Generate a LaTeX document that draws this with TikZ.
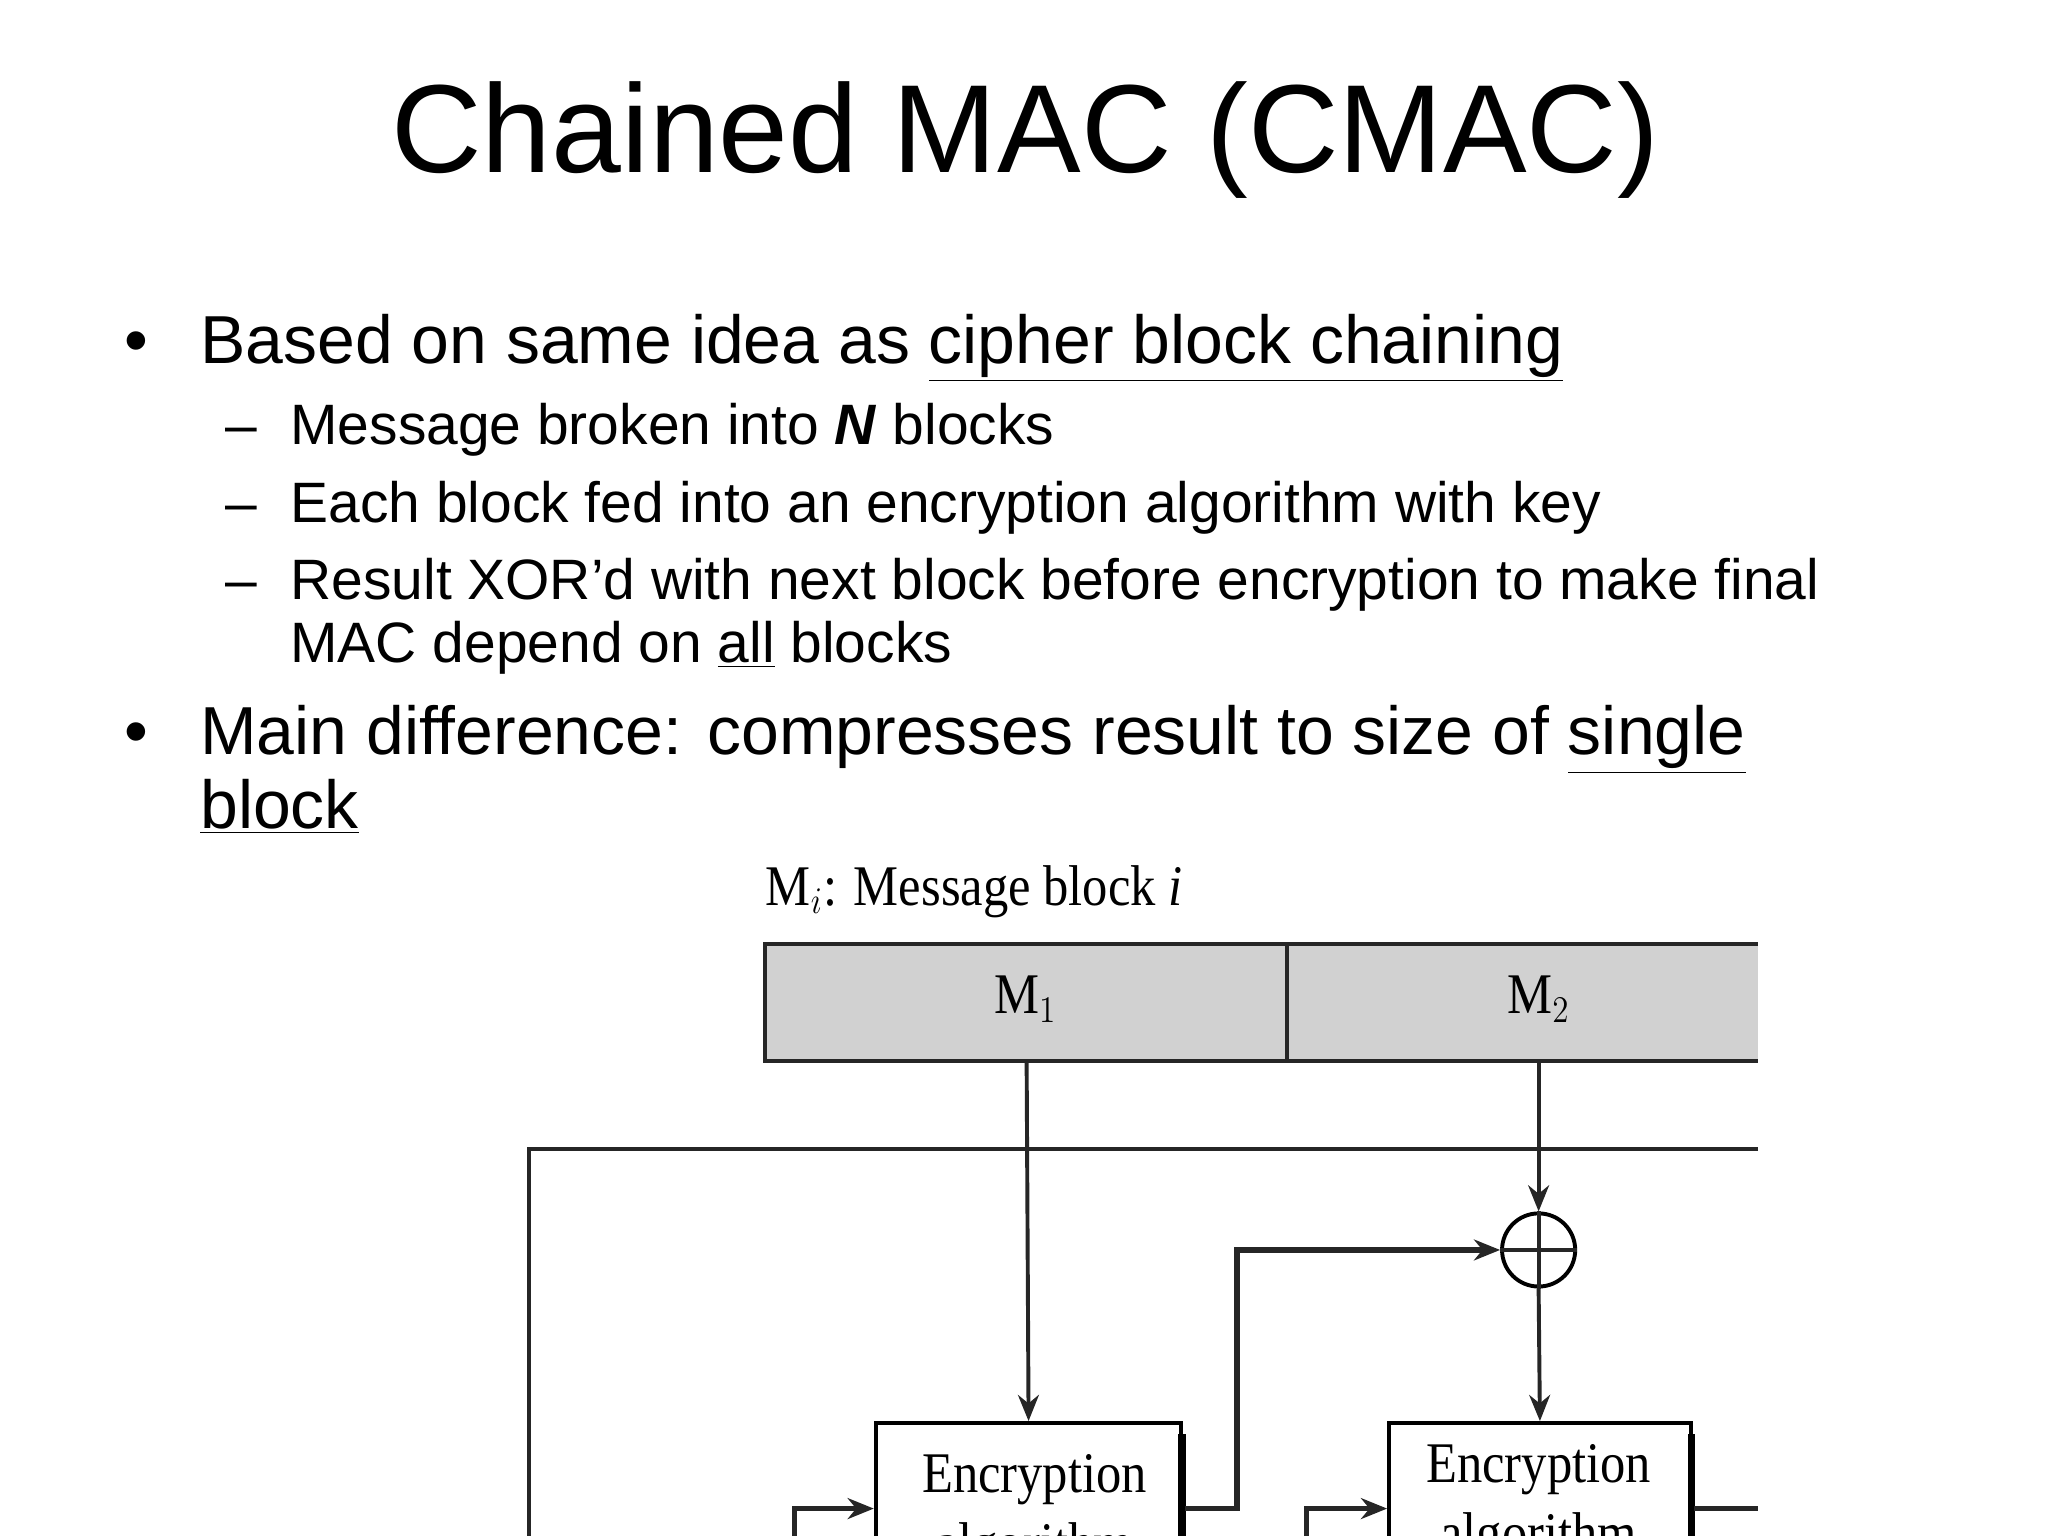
\documentclass[tikz,border=0pt]{standalone}
\usepackage{fontspec}
\setmainfont{Liberation Sans}
\newfontfamily\dserif{Liberation Serif}
\usetikzlibrary{arrows.meta}
\begin{document}
\begin{tikzpicture}[x=0.5pt,y=-0.5pt,
  txt/.style={anchor=base west,inner sep=0pt},
  ln/.style={line width=1.5pt,black!85},
  arr/.style={ln,-{Stealth[length=10pt,width=8pt]}},
  box/.style={draw,line width=1.5pt,fill=white,minimum width=117pt,minimum height=60pt,anchor=north west,inner sep=0pt},
  dlab/.style={font=\dserif\fontsize{22}{24}\selectfont,xscale=0.88,inner sep=0pt}]
\useasboundingbox (0,0) rectangle (1568,1176);
\clip (0,0) rectangle (1568,1176);
\node[anchor=base,inner sep=0pt,font=\fontsize{48}{56}\selectfont] (title) at (785,132) {Chained MAC (CMAC)};
\tikzset{big/.style={txt,font=\fontsize{26}{30}\selectfont},small/.style={txt,font=\fontsize{21.8}{24}\selectfont}}
\node[big] (b1d) at (95,278) {•};
\node[big] (b1) at (153,278) {Based on same idea as \underline{cipher block chaining}};
\node[small] (d1) at (172,340) {–};
\node[small] (s1) at (222,340) {Message broken into \textbf{\textit{N}} blocks};
\node[small] (d2) at (172,400) {–};
\node[small] (s2) at (222,400) {Each block fed into an encryption algorithm with key};
\node[small] (d3) at (172,459) {–};
\node[small] (s3) at (222,459) {Result XOR’d with next block before encryption to make final};
\node[small] (s3b) at (222,507) {MAC depend on \underline{all} blocks};
\node[big] (b2d) at (95,578) {•};
\node[big] (b2) at (153,578) {Main difference: compresses result to size of \underline{single}};
\node[big] (b2b) at (153,634) {\underline{block}};
% diagram
\node[dlab,anchor=base west] (legend) at (586,693) {M$_i$: Message block \textit{i}};
\fill[black!18] (586,723) rectangle (1346,812);
\draw[ln] (1346,723) -- (586,723) -- (586,812) -- (1346,812);
\draw[ln] (985,723) -- (985,812);
\node[dlab] (m1) at (785,765) {M$_1$};
\node[dlab] (m2) at (1178,765) {M$_2$};
\coordinate (m1b) at (786,812);
\coordinate (m2b) at (1178,812);
\draw[ln] (1346,880) -- (405,880) -- (405,1176);
\node[box] (e1) at (669,1088) {};
\node[box,minimum width=115.5pt] (e2) at (1062,1088) {};
\draw[line width=3pt] (905,1098) -- (905,1176);
\draw[line width=3pt] (1295,1098) -- (1295,1176);
\node[dlab] at (792,1133) {Encryption};
\node[dlab] at (792,1186) {algorithm};
\node[dlab] at (1178,1125) {Encryption};
\node[dlab] at (1178,1178) {algorithm};
\node[draw,circle,line width=1.5pt,minimum size=28pt,inner sep=0pt,fill=white] (x) at (1178,957) {};
\draw[ln] (x.north) -- (x.south) (x.west) -- (x.east);
\draw[arr] (m1b) -- (e1.north);
\draw[arr] (m2b) -- (x.north);
\draw[arr] (x.south) -- (e2.north);
\coordinate (o1) at (907,1155);
\draw[arr,line width=2pt] (o1) -- (947,1155) -- (947,957) -- (x.west);
\draw[arr,line width=2pt] (608,1176) -- (608,1155) -- (669,1155);
\draw[arr,line width=2pt] (1000,1176) -- (1000,1155) -- (1062,1155);
\draw[ln,line width=2pt] (1297,1155) -- (1346,1155);
\end{tikzpicture}
\end{document}
